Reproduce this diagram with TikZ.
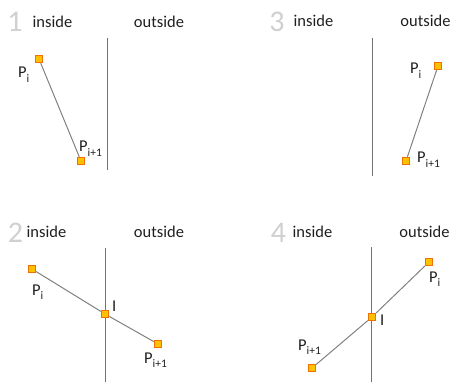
\documentclass[tikz,border=0pt]{standalone}
\usepackage{fontspec}
\setmainfont{Carlito}
\definecolor{ptborder}{HTML}{EE7203}
\definecolor{ptfill}{HTML}{FFC000}
\definecolor{segcol}{HTML}{808080}
\definecolor{vcol}{HTML}{737373}
\definecolor{txtcol}{HTML}{1F1F1F}
\definecolor{numcol}{HTML}{D0D0D0}
\newcommand\mysub[1]{\raisebox{-0.3em}{\fontsize{11.5}{11.5}\selectfont #1}}
\begin{document}
\begin{tikzpicture}[x=1pt,y=-1pt,
  lbl/.style={font=\fontsize{16.5}{17}\selectfont, text=txtcol, inner sep=0pt, anchor=base},
  plbl/.style={font=\fontsize{16.5}{17}\selectfont, text=txtcol, inner sep=0pt, anchor=base west},
  num/.style={font=\fontsize{30}{31}\selectfont, text=numcol, inner sep=0pt, anchor=base},
  ptbox/.style={draw=ptborder, fill=ptfill, line width=1.4pt, minimum size=7pt, inner sep=0pt, rectangle},
  seg/.style={draw=segcol, line width=1pt},
  vline/.style={draw=vcol, line width=1pt}]
\useasboundingbox (0,0) rectangle (455,382);
% ---------- panel 1 ----------
\node[num] (n1) at (15,32) {1};
\node[lbl] (in1) at (52.5,28) {inside};
\node[lbl] (out1) at (159,28) {outside};
\coordinate (v1t) at (107,38);
\coordinate (v1b) at (107,170);
\draw[vline] (v1t) -- (v1b);
\node[ptbox] (a1) at (39,59) {};
\node[ptbox] (b1) at (81,161) {};
\draw[seg] (a1) -- (b1);
\node[plbl] (la1) at (18,78) {P\mysub{i}};
\node[plbl] (lb1) at (79,152) {P\mysub{i+1}};
% ---------- panel 3 ----------
\node[num] (n3) at (277,32) {3};
\node[lbl] (in3) at (313.5,27) {inside};
\node[lbl] (out3) at (425.5,27) {outside};
\coordinate (v3t) at (372,38);
\coordinate (v3b) at (372,176);
\draw[vline] (v3t) -- (v3b);
\node[ptbox] (a3) at (438,66) {};
\node[ptbox] (b3) at (406,161) {};
\draw[seg] (a3) -- (b3);
\node[plbl] (la3) at (410,74) {P\mysub{i}};
\node[plbl] (lb3) at (417,163) {P\mysub{i+1}};
% ---------- panel 2 ----------
\node[num] (n2) at (15.5,242) {2};
\node[lbl] (in2) at (46.5,237) {inside};
\node[lbl] (out2) at (159,237) {outside};
\coordinate (v2t) at (105,248);
\coordinate (v2b) at (105,382);
\draw[vline] (v2t) -- (v2b);
\node[ptbox] (a2) at (32,269) {};
\node[ptbox] (i2) at (105,314) {};
\node[ptbox] (b2) at (158,344) {};
\draw[seg] (a2) -- (i2);
\draw[seg] (i2) -- (b2);
\node[plbl] (la2) at (32,295) {P\mysub{i}};
\node[plbl] (li2) at (112,311) {I};
\node[plbl] (lb2) at (144,363) {P\mysub{i+1}};
% ---------- panel 4 ----------
\node[num] (n4) at (278.5,242) {4};
\node[lbl] (in4) at (312.5,237) {inside};
\node[lbl] (out4) at (424.5,237) {outside};
\coordinate (v4t) at (371,247);
\coordinate (v4b) at (371,382);
\draw[vline] (v4t) -- (v4b);
\node[ptbox] (a4) at (429,262) {};
\node[ptbox] (i4) at (372,317) {};
\node[ptbox] (b4) at (312,368) {};
\draw[seg] (a4) -- (i4);
\draw[seg] (i4) -- (b4);
\node[plbl] (la4) at (429,282) {P\mysub{i}};
\node[plbl] (li4) at (380,325) {I};
\node[plbl] (lb4) at (298,350) {P\mysub{i+1}};
\end{tikzpicture}
\end{document}
